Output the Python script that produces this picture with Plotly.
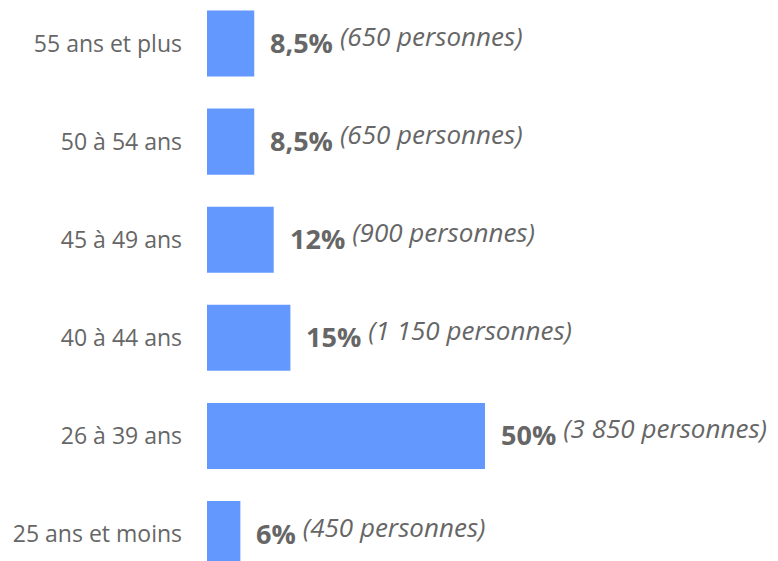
import plotly.graph_objects as go

categories = ["25 ans et moins", "26 à 39 ans", "40 à 44 ans", "45 à 49 ans", "50 à 54 ans", "55 ans et plus"]
values = [6, 50, 15, 12, 8.5, 8.5]
pct_labels = ["6%", "50%", "15%", "12%", "8,5%", "8,5%"]
people = ["450", "3 850", "1 150", "900", "650", "650"]

gray = "#666666"

fig = go.Figure()

fig.add_trace(go.Bar(
    x=values,
    y=list(range(len(categories))),
    orientation="h",
    marker=dict(color="#6398FF", line=dict(width=0)),
    hoverinfo="skip",
))

# percentage + number of people next to each bar
for i, (v, p, n) in enumerate(zip(values, pct_labels, people)):
    fig.add_annotation(
        x=v, y=i, xref="x", yref="y",
        text="<b>" + p + "</b> <i><span style='font-size:26px;baseline-shift:7px'>(" + n + " personnes)</span></i>",
        showarrow=False, xanchor="left", yanchor="middle",
        xshift=14, yshift=4,
        font=dict(family="Open Sans", size=27, color=gray),
    )

# the page body has an 8px margin, so the figure is a bit smaller than the window
fig.update_layout(
    width=770, height=553,
    margin=dict(l=199, r=0, t=0, b=0, autoexpand=False),
    paper_bgcolor="white", plot_bgcolor="white",
    bargap=0.327,
    showlegend=False,
    font=dict(family="Open Sans", color=gray),
    xaxis=dict(range=[0, 571 / 5.56], visible=False, automargin=False),
    yaxis=dict(
        range=[-0.275, 5.362],
        tickvals=list(range(len(categories))),
        ticktext=categories,
        tickfont=dict(family="Open Sans", size=23, color=gray),
        showgrid=False, zeroline=False, showline=False,
        ticks="", ticklabelstandoff=24, automargin=False,
    ),
)

fig.write_html("out.html")
